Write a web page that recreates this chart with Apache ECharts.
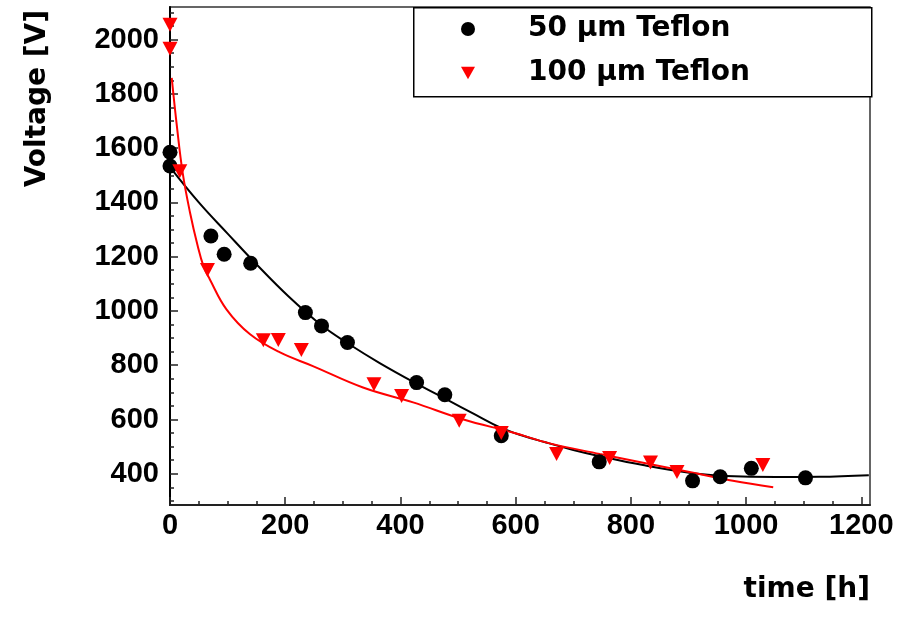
<!DOCTYPE html>
<html>
<head>
<meta charset="utf-8">
<script src="https://cdn.jsdelivr.net/npm/echarts@6/dist/echarts.min.js"></script>
<style>
  html, body { margin: 0; padding: 0; background: #fff; }
  #main { width: 915px; height: 618px; }
</style>
</head>
<body>
<div id="main"></div>
<script>
// tick positions
var xTicks = [0, 200, 400, 600, 800, 1000, 1200];
var xMinor = [50, 100, 150, 250, 300, 350, 450, 500, 550, 650, 700, 750, 850, 900, 950, 1050, 1100, 1150];
var yTicks = [400, 600, 800, 1000, 1200, 1400, 1600, 1800, 2000];
var yMinor = [300, 350, 450, 500, 550, 650, 700, 750, 850, 900, 950, 1050, 1100, 1150,
              1250, 1300, 1350, 1450, 1500, 1550, 1650, 1700, 1750, 1850, 1900, 1950, 2050, 2100];

// measured points, [time h, voltage V]
var teflon50 = [[0, 1585], [0, 1534], [71, 1276], [94, 1209], [140, 1176], [235, 994], [263, 945],
                [308, 884], [428, 736], [477, 691], [575, 540], [745, 444], [907, 374], [955, 389],
                [1009, 420], [1103, 385]];
var teflon100 = [[0, 2055], [0, 1966], [17, 1515], [65, 1151], [162, 892], [188, 893], [228, 856],
                 [354, 730], [402, 687], [502, 595], [575, 550], [671, 473], [763, 458], [834, 442],
                 [880, 407], [1029, 432]];

// fit curves
var fit50 = [[0, 1530], [50, 1400], [100, 1285], [150, 1172], [205, 1055], [263, 947], [309, 880],
             [364, 808], [428, 732], [480, 674], [530, 618], [572, 572], [610, 542], [650, 517],
             [700, 488], [746, 465], [821, 432], [907, 402], [965, 392], [1052, 388], [1127, 389],
             [1213, 395]];
var fit100 = [[3, 1859], [12, 1680], [22, 1509], [35, 1360], [48, 1240], [58, 1166], [69, 1117],
              [98, 1006], [139, 914], [191, 847], [248, 797], [335, 718], [422, 663], [508, 601],
              [595, 552], [659, 512], [746, 473], [832, 436], [919, 399], [977, 374], [1047, 350]];

var dom = document.getElementById('main');
var myChart = echarts.init(dom);

var tickFont = { fontFamily: 'Liberation Sans', fontWeight: 'bold', fontSize: 29, color: '#000' };
var titleFont = 'bold 28px "DejaVu Sans"';

function plain(v) {
    return String(v);
}

option = {
    animation: false,
    backgroundColor: '#fff',
    grid: {
        left: 170, right: 45, top: 7, bottom: 113,
        show: true, borderColor: '#333', borderWidth: 1.5
    },
    legend: {
        orient: 'vertical',
        left: 461, top: 14,
        padding: 0,
        itemGap: 14,
        itemWidth: 14, itemHeight: 14,
        data: [
            { name: '50 μm Teflon', icon: 'circle' },
            { name: '100 μm Teflon', icon: 'path://M0,0L10,0L5,9Z' }
        ],
        itemStyle: { opacity: 1 },
        textStyle: {
            fontFamily: 'DejaVu Sans', fontWeight: 'bold', fontSize: 28,
            lineHeight: 30, color: '#000', padding: [0, 0, 0, 48]
        },
        z: 10
    },
    xAxis: [
        {
            type: 'value', min: 0, max: 1215,
            axisLine: { show: true, onZero: false, lineStyle: { color: '#222', width: 2 } },
            axisTick: { inside: true, length: 8, customValues: xTicks, lineStyle: { color: '#222', width: 1.5 } },
            axisLabel: Object.assign({ customValues: xTicks, margin: 6, formatter: plain }, tickFont),
            splitLine: { show: false }
        },
        {
            type: 'value', min: 0, max: 1215, position: 'bottom',
            axisLine: { show: false },
            axisTick: { inside: true, length: 4, customValues: xMinor, lineStyle: { color: '#222', width: 1.5 } },
            axisLabel: { show: false },
            splitLine: { show: false }
        }
    ],
    yAxis: [
        {
            type: 'value', min: 285, max: 2120,
            axisLine: { show: true, onZero: false, lineStyle: { color: '#000', width: 2 } },
            axisTick: { inside: true, length: 8, customValues: yTicks, lineStyle: { color: '#222', width: 1.5 } },
            axisLabel: Object.assign({ customValues: yTicks, margin: 11, formatter: plain }, tickFont),
            splitLine: { show: false }
        },
        {
            type: 'value', min: 285, max: 2120, position: 'left', offset: 0,
            axisLine: { show: false },
            axisTick: { inside: true, length: 4, customValues: yMinor, lineStyle: { color: '#222', width: 1.5 } },
            axisLabel: { show: false },
            splitLine: { show: false }
        }
    ],
    graphic: [
        {
            type: 'rect', left: 413, top: 7, z: 5,
            shape: { width: 458, height: 89 },
            style: { fill: '#fff', stroke: '#000', lineWidth: 1.5 }
        },
        {
            type: 'text', x: 870, y: 590,
            style: { text: 'time [h]', font: titleFont, fill: '#000', align: 'right', verticalAlign: 'middle' }
        },
        {
            type: 'text', x: 38, y: 10, rotation: Math.PI / 2,
            style: { text: 'Voltage [V]', font: titleFont, fill: '#000', align: 'right', verticalAlign: 'middle' }
        }
    ],
    series: [
        {
            name: 'fit 50', type: 'line', data: fit50, smooth: 0.4,
            showSymbol: false, color: '#000', lineStyle: { width: 2 }, z: 2
        },
        {
            name: 'fit 100', type: 'line', data: fit100, smooth: 0.4,
            showSymbol: false, color: '#ff0000', lineStyle: { width: 2 }, z: 2
        },
        {
            name: '50 μm Teflon', type: 'scatter', data: teflon50,
            symbol: 'circle', symbolSize: 15, color: '#000',
            itemStyle: { opacity: 1 }, z: 3
        },
        {
            name: '100 μm Teflon', type: 'scatter', data: teflon100,
            symbol: 'triangle', symbolRotate: 180, symbolSize: [15, 14], color: '#ff0000',
            itemStyle: { opacity: 1 }, z: 3
        }
    ]
};

if (option && typeof option === "object") {
    myChart.setOption(option, true);
}
</script>
</body>
</html>
